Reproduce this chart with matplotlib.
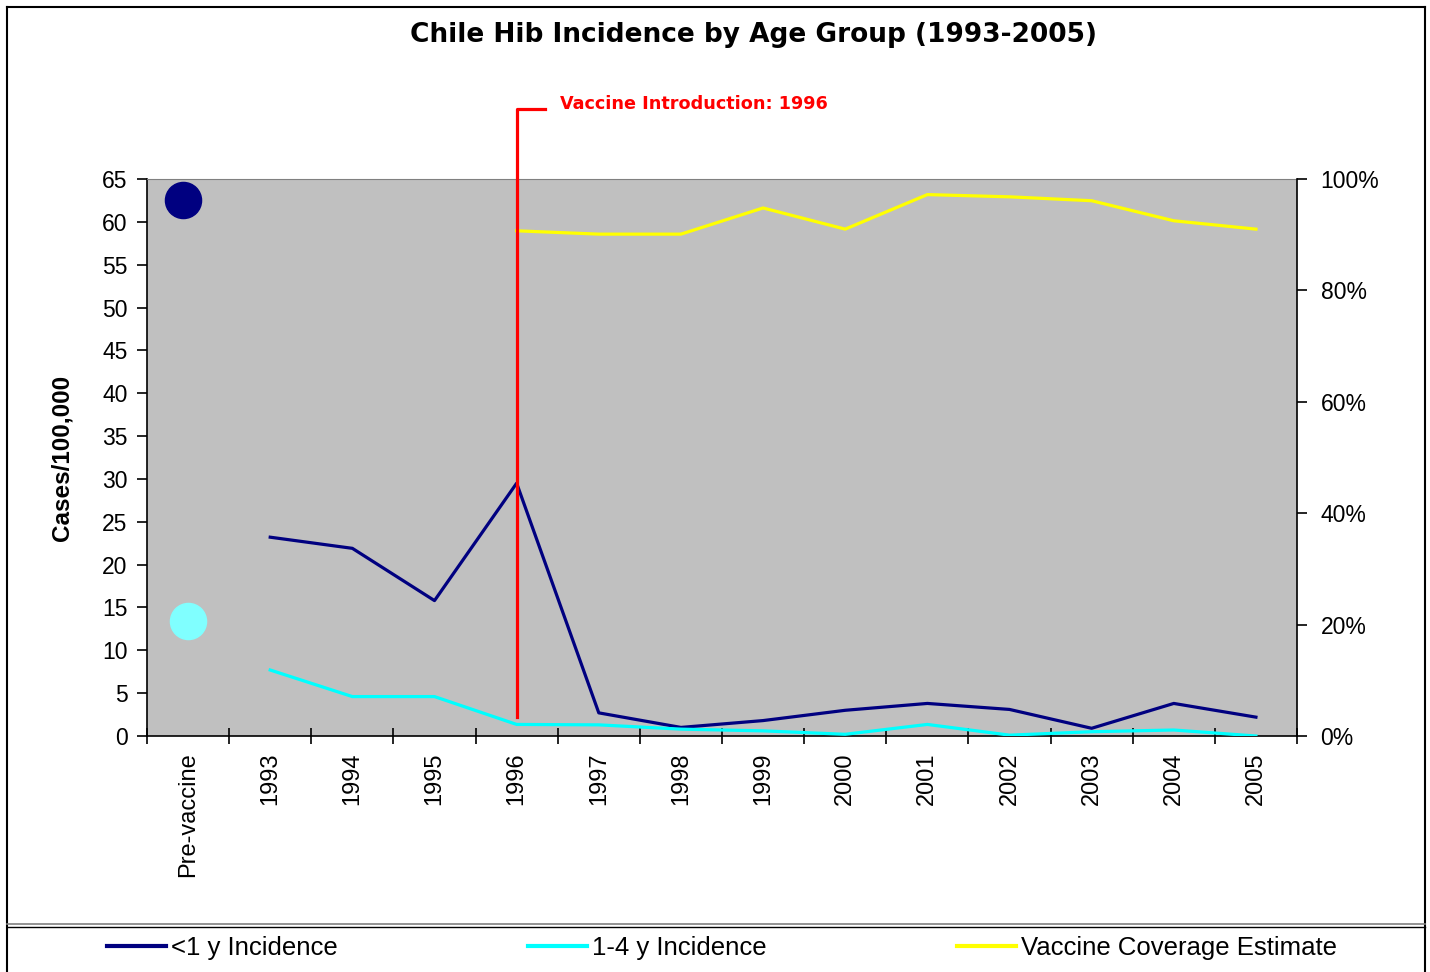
import matplotlib
matplotlib.use("Agg")
import matplotlib.pyplot as plt
from matplotlib.lines import Line2D
from matplotlib.ticker import PercentFormatter, FixedLocator
import numpy as np

# chart values
categories = ["Pre-vaccine", "1993", "1994", "1995", "1996", "1997", "1998",
              "1999", "2000", "2001", "2002", "2003", "2004", "2005"]
years = categories[1:]
prevaccine_under1 = 62.5
prevaccine_1to4 = 13.4
under1 = [23.2, 21.9, 15.8, 29.5, 2.7, 1.0, 1.8, 3.0, 3.8, 3.1, 0.9, 3.8, 2.2]
one_to_four = [7.7, 4.6, 4.6, 1.35, 1.3, 0.8, 0.6, 0.2, 1.35, 0.1, 0.5, 0.7, 0.0]
coverage_years = years[3:]
coverage = [0.907, 0.901, 0.901, 0.948, 0.910, 0.972, 0.968, 0.961, 0.925, 0.910]
intro_year = "1996"

NAVY = "#000080"
CYAN = "#00FFFF"
LIGHT_CYAN = "#80FFFF"
YELLOW = "#FFFF00"
RED = "#FF0000"
FONT = "Liberation Sans"

W, H = 1430, 972
fig = plt.figure(figsize=(W / 100, H / 100), dpi=100)

# outer frame + legend separator
def fig_line(x, y, **kw):
    fig.add_artist(Line2D(x, y, transform=fig.transFigure, **kw))

fig_line([7 / W, 7 / W], [0, 1 - 7 / H], color="black", lw=1.5)
fig_line([1425 / W, 1425 / W], [0, 1 - 7 / H], color="black", lw=1.5)
fig_line([7 / W, 1425 / W], [1 - 7 / H, 1 - 7 / H], color="black", lw=1.5)
fig_line([7 / W, 1425 / W], [1 - 924 / H, 1 - 924 / H], color="#808080", lw=1.2)
fig_line([7 / W, 1425 / W], [1 - 927 / H, 1 - 927 / H], color="black", lw=1.0)

ax = fig.add_axes([147 / W, 1 - 736 / H, 1150 / W, 557 / H])
ax.set_facecolor("#C0C0C0")
xpos = np.arange(len(categories))
ypos = xpos[1:]

ax.plot(ypos, under1, color=NAVY, lw=2.3, zorder=3)
ax.plot(ypos, one_to_four, color=CYAN, lw=2.3, zorder=3)
ax.plot([-0.06], [prevaccine_under1], "o", color=NAVY, ms=26, zorder=4)
ax.plot([0], [prevaccine_1to4], "o", color=LIGHT_CYAN, ms=26, zorder=4)

ax.set_xlim(-0.5, len(categories) - 0.5)
ax.set_ylim(0, 65)
ax.set_yticks(np.arange(0, 66, 5))
ax.set_xticks(xpos)
ax.set_xticklabels(categories, rotation=90, fontsize=17, family=FONT, va="top")
ax.xaxis.set_minor_locator(FixedLocator(np.arange(-0.5, len(categories), 1.0)))
ax.tick_params(axis="x", which="major", length=0, pad=12)
ax.tick_params(axis="x", which="minor", direction="inout", length=12, width=1.2)
ax.tick_params(axis="y", direction="out", length=7, width=1.2, pad=7, labelsize=16.5)
for lab in ax.get_yticklabels():
    lab.set_family(FONT)
ax.spines["top"].set_color("#808080")
ax.spines["right"].set_visible(False)
ax.spines["left"].set_linewidth(1.2)
ax.spines["bottom"].set_linewidth(1.2)

ax.set_ylabel("Cases/100,000", fontsize=17.5, fontweight="bold", family=FONT)
ax.yaxis.set_label_coords(-0.064, 0.5)

ax2 = ax.twinx()
ax2.set_ylim(0, 1)
ax2.plot(xpos[4:], coverage, color=YELLOW, lw=2.3, zorder=3)
ax2.yaxis.set_major_formatter(PercentFormatter(1.0, decimals=0))
ax2.set_yticks(np.arange(0, 1.01, 0.2))
ax2.tick_params(axis="y", direction="out", length=7, width=1.2, pad=10, labelsize=16.5)
for lab in ax2.get_yticklabels():
    lab.set_family(FONT)
for s in ["top", "left", "bottom"]:
    ax2.spines[s].set_visible(False)
ax2.spines["right"].set_linewidth(1.2)

# vaccine introduction marker
xi = categories.index(intro_year)
ax2.plot([xi, xi, xi + 0.35], [2.2, 73.2, 73.2], color=RED, lw=2.3,
         transform=ax.transData, clip_on=False, zorder=6)
fig.text(560 / W, 1 - 104 / H, "Vaccine Introduction: 1996", color=RED,
         fontsize=12.7, fontweight="bold", ha="left", va="center")

fig.text(754 / W, 1 - 35 / H, "Chile Hib Incidence by Age Group (1993-2005)",
         fontsize=19, fontweight="bold", ha="center", va="center")

handles = [Line2D([], [], color=NAVY, lw=3),
           Line2D([], [], color=CYAN, lw=3),
           Line2D([], [], color=YELLOW, lw=3)]
labels = ["<1 y Incidence", "1-4 y Incidence", "Vaccine Coverage Estimate"]
fig.legend(handles, labels, ncol=3, loc="center", bbox_to_anchor=(722 / W, 1 - 948 / H),
           frameon=False, handlelength=2.3, handletextpad=0.2, columnspacing=7.4,
           prop={"family": FONT, "size": 18.5})

fig.savefig("out.png", dpi=100)
